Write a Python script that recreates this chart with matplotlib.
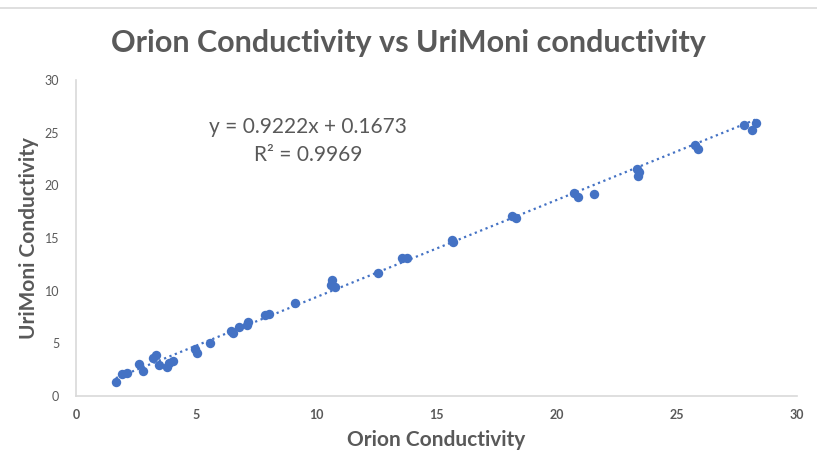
import numpy as np
import matplotlib.pyplot as plt
from matplotlib.lines import Line2D

# values
orion = [1.66, 1.90, 2.13, 2.63, 2.80, 3.19, 3.33, 3.47, 3.77, 3.88, 4.05,
         4.95, 5.05, 5.58, 6.45, 6.55, 6.80, 7.10, 7.16, 7.87, 8.04, 9.11,
         10.60, 10.64, 10.78, 12.58, 13.55, 13.76, 15.63, 15.70, 18.13, 18.31,
         20.72, 20.90, 21.56, 23.36, 23.44, 23.40, 25.76, 25.90, 27.80, 28.12, 28.30]
urimoni = [1.36, 2.09, 2.21, 3.04, 2.37, 3.64, 3.87, 2.94, 2.78, 3.11, 3.35,
           4.43, 4.06, 5.00, 6.18, 5.98, 6.58, 6.74, 7.06, 7.69, 7.79, 8.86,
           10.54, 11.02, 10.38, 11.71, 13.08, 13.08, 14.81, 14.65, 17.09, 16.88,
           19.25, 18.93, 19.18, 21.53, 21.30, 20.89, 23.84, 23.43, 25.74, 25.26, 25.90]
slope = 0.9222
intercept = 0.1673
r2 = 0.9969
ticks = [0, 5, 10, 15, 20, 25, 30]

blue = '#4472C4'
gray = '#595959'
font = 'Lato'

fig = plt.figure(figsize=(8.17, 4.72), dpi=100)
ax = fig.add_axes([0.093, 0.161, 0.8825, 0.6695])

ax.scatter(orion, urimoni, s=46, color=blue, zorder=3, linewidths=0)

# linear trendline across the data range
xt = np.array([min(orion), max(orion)])
ax.plot(xt, slope * xt + intercept, color=blue, lw=1.6, linestyle=(0, (1, 1.6)),
        dash_capstyle='butt', zorder=2)

ax.set_xlim(0, 30)
ax.set_ylim(0, 30)
ax.set_xticks(ticks)
ax.set_yticks(ticks)
ax.tick_params(axis='both', length=0, colors=gray)
ax.tick_params(axis='x', pad=9)
ax.tick_params(axis='y', pad=12)
for lab in ax.get_xticklabels():
    lab.set_fontfamily(font)
    lab.set_fontweight('bold')
    lab.set_fontsize(9)
for lab in ax.get_yticklabels():
    lab.set_fontfamily(font)
    lab.set_fontsize(9)

for side in ['top', 'right']:
    ax.spines[side].set_visible(False)
for side in ['left', 'bottom']:
    ax.spines[side].set_color('#d9d9d9')
    ax.spines[side].set_linewidth(1.2)

ax.set_xlabel('Orion Conductivity', fontsize=15, fontweight='bold', color=gray,
              fontfamily=font, labelpad=7)
ax.set_ylabel('UriMoni Conductivity', fontsize=15, fontweight='bold', color=gray,
              fontfamily=font, labelpad=4)

fig.text(0.5, 0.908, 'Orion Conductivity vs UriMoni conductivity', ha='center', va='center',
         fontsize=22, fontweight='bold', color=gray, fontfamily=font)

ax.text(0.322, 0.851, 'y = %.4fx + %.4f' % (slope, intercept), transform=ax.transAxes,
        ha='center', va='center', fontsize=15, color=gray, fontfamily=font)
ax.text(0.322, 0.763, 'R² = %.4f' % r2, transform=ax.transAxes,
        ha='center', va='center', fontsize=15, color=gray, fontfamily=font)

# light chart border at the top
fig.add_artist(Line2D([0, 1], [1 - 8 / 472, 1 - 8 / 472], color='#d9d9d9', lw=1.2,
                      transform=fig.transFigure))

fig.savefig('out.png', dpi=100)
